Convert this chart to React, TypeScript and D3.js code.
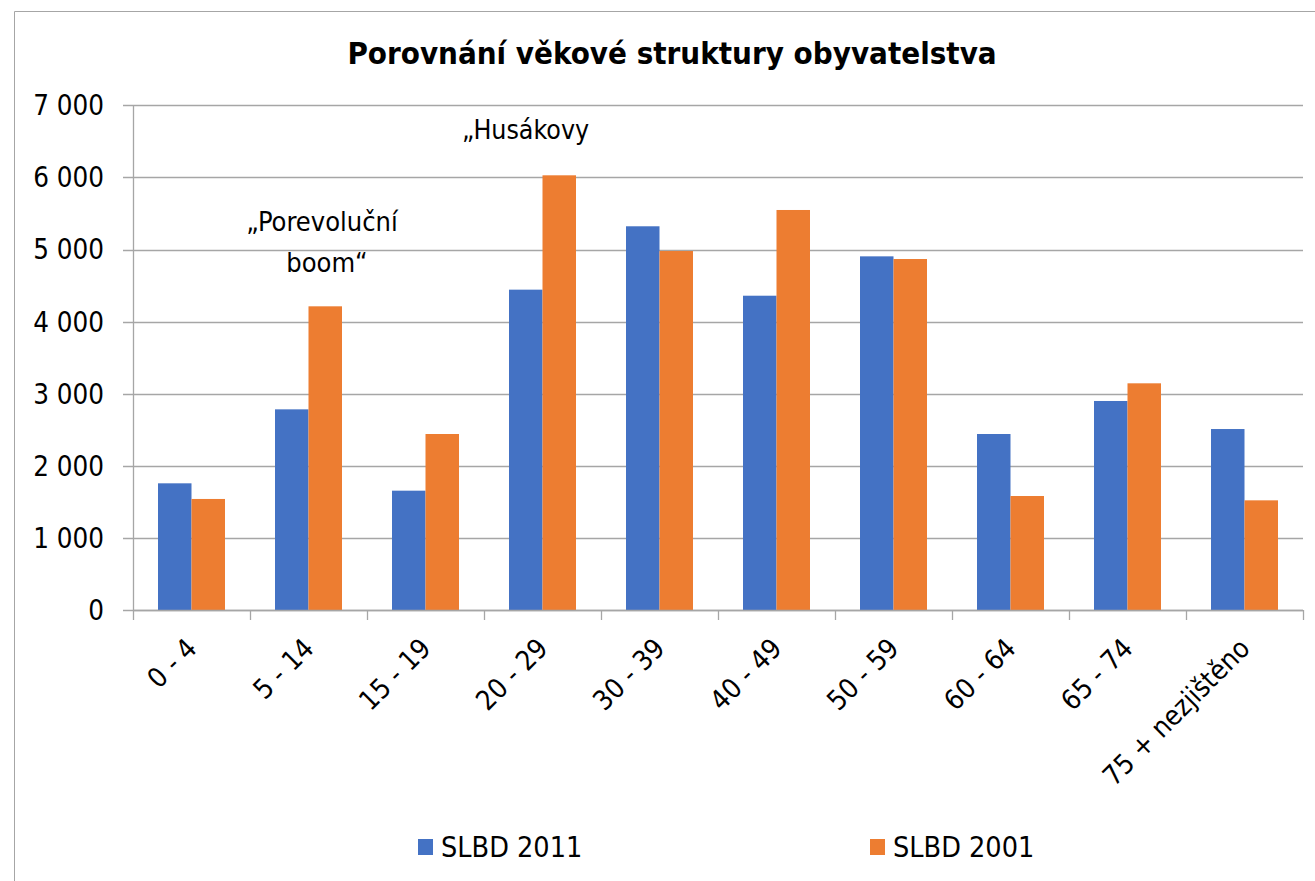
import React from "react";
import * as d3 from "d3";

const categories = ["0 - 4", "5 - 14", "15 - 19", "20 - 29", "30 - 39", "40 - 49", "50 - 59", "60 - 64", "65 - 74", "75 + nezjištěno"];
const seriesNames = ["SLBD 2011", "SLBD 2001"];
const slbd2011 = [1757, 2783, 1655, 4443, 5322, 4359, 4905, 2441, 2899, 2510];
const slbd2001 = [1540, 4212, 2441, 6029, 4979, 5548, 4868, 1581, 3144, 1521];
const yTicks = [0, 1000, 2000, 3000, 4000, 5000, 6000, 7000];
const colors = ["#4472C4", "#ED7D31"];
const titleText = "Porovnání věkové struktury obyvatelstva";

const FONT = "'DejaVu Sans Condensed', 'DejaVu Sans', sans-serif";

export default function App() {
  const W = 1315, H = 881;
  const left = 133, right = 1303, top = 105.3, bottom = 610;
  const x = d3.scaleBand<string>().domain(categories).range([left, right]).padding(0);
  const inner = d3.scaleBand<string>().domain(seriesNames).range([25, x.bandwidth() - 25]).padding(0);
  const y = d3.scaleLinear().domain([0, 7000]).range([bottom, top]);
  const fmt = (v: number) => d3.format(",")(v).replace(/,/g, " ");
  const series = [slbd2011, slbd2001];
  const grid = "#a6a6a6";

  return (
    <svg width={W} height={H} style={{ position: "absolute", left: 0, top: 0, background: "#fff" }} fontFamily={FONT}>
      <rect x={0} y={0} width={W} height={H} fill="#fff" />
      <line x1={14.5} y1={11.5} x2={W} y2={11.5} stroke={grid} strokeWidth={1} />
      <line x1={14.5} y1={11.5} x2={14.5} y2={H} stroke={grid} strokeWidth={1} />
      <text x={672} y={64} textAnchor="middle" fontSize={31} fontWeight="bold" fill="#000">{titleText}</text>
      {yTicks.map((t) => (
        <g key={t}>
          <line x1={123} x2={right} y1={Math.round(y(t)) + 0.5} y2={Math.round(y(t)) + 0.5} stroke={grid} strokeWidth={1.3} />
          <text x={104} y={y(t)} dy="0.36em" textAnchor="end" fontSize={27.5} fill="#000">{fmt(t)}</text>
        </g>
      ))}
      <line x1={left + 0.5} x2={left + 0.5} y1={top} y2={bottom + 10} stroke={grid} strokeWidth={1.3} />
      {categories.map((c, i) => (
        <line key={"tk" + i} x1={(x(c) as number) + x.bandwidth() + 0.5} x2={(x(c) as number) + x.bandwidth() + 0.5} y1={bottom} y2={bottom + 10} stroke={grid} strokeWidth={1.3} />
      ))}
      {categories.map((c, i) => (
        <g key={"b" + i}>
          {series.map((s, k) => (
            <rect key={k} x={(x(c) as number) + (inner(seriesNames[k]) as number)} y={y(s[i])} width={inner.bandwidth()} height={bottom - y(s[i])} fill={colors[k]} />
          ))}
        </g>
      ))}
      <line x1={left} x2={right} y1={bottom + 0.5} y2={bottom + 0.5} stroke={grid} strokeWidth={1.3} />
      {categories.map((c, i) => {
        const cx = (x(c) as number) + x.bandwidth() / 2 + 7;
        const cy = 650;
        return (
          <text key={"l" + i} x={cx} y={cy} textAnchor="end" fontSize={27.5} fill="#000" transform={`rotate(-45 ${cx} ${cy})`}>{c}</text>
        );
      })}
      <text x={322} y={231} textAnchor="middle" fontSize={27} fill="#000">„Porevoluční</text>
      <text x={327} y={272} textAnchor="middle" fontSize={27} fill="#000">boom“</text>
      <text x={462} y={139} textAnchor="start" fontSize={26.5} fill="#000">„Husákovy</text>
      {seriesNames.map((n, k) => {
        const lx = k === 0 ? 418 : 870;
        return (
          <g key={"lg" + k}>
            <rect x={lx} y={839} width={15} height={16} fill={colors[k]} />
            <text x={lx + 23} y={857} fontSize={28.5} fill="#000">{n}</text>
          </g>
        );
      })}
    </svg>
  );
}
